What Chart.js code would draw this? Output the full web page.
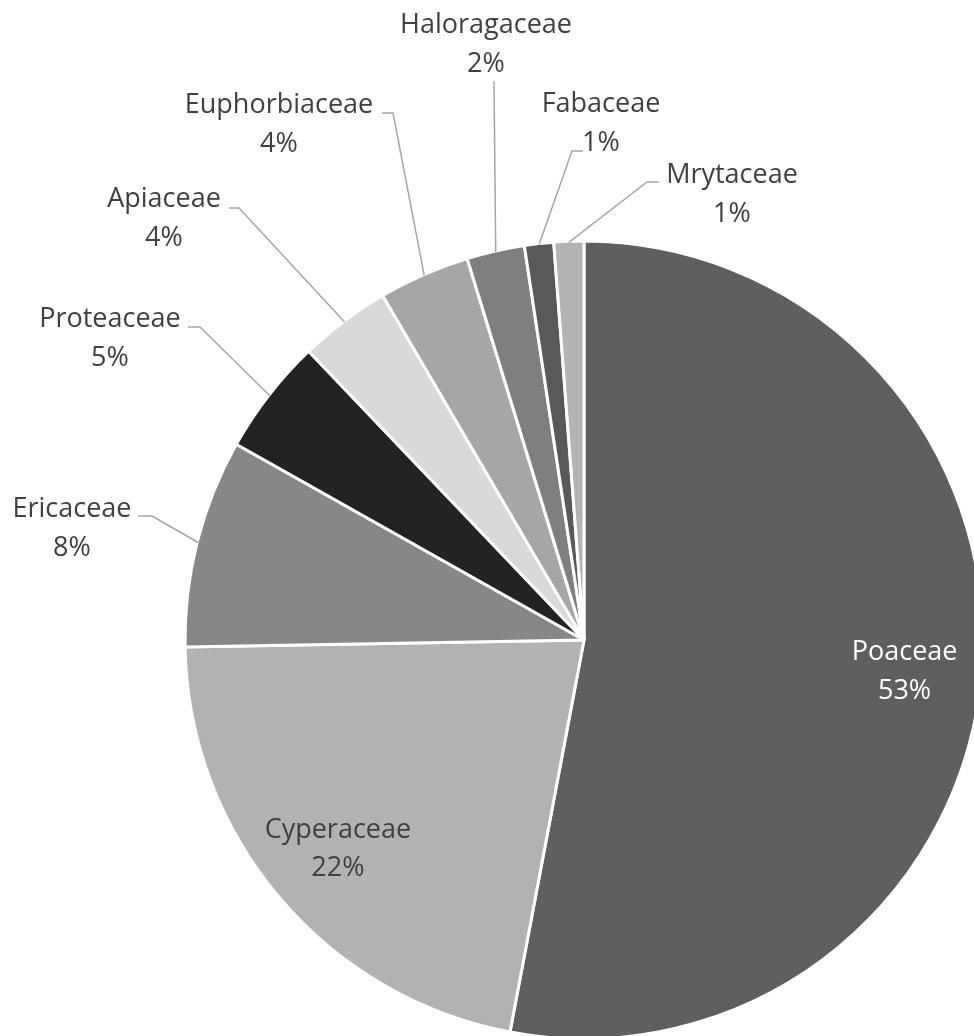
<!DOCTYPE html>
<html>
<head>
<meta charset="utf-8">
<script src="https://cdn.jsdelivr.net/npm/chart.js@4.4.0/dist/chart.umd.min.js"></script>
<style>
  html, body { margin: 0; padding: 0; background: #fff; overflow: hidden; }
  #wrap { width: 974px; height: 1036px; }
</style>
</head>
<body>
<div id="wrap"><canvas id="pollenPie"></canvas></div>
<script>
const families = ["Poaceae", "Cyperaceae", "Ericaceae", "Proteaceae", "Apiaceae",
                  "Euphorbiaceae", "Haloragaceae", "Fabaceae", "Mrytaceae"];
const shares = [52.97, 21.75, 8.44, 4.72, 3.70, 3.69, 2.34, 1.18, 1.21];
const sliceColors = ["#5f5f5f", "#b2b2b2", "#878787", "#232323", "#d9d9d9",
                     "#a6a6a6", "#7f7f7f", "#595959", "#b4b4b4"];

// where the outside labels go: text centre x, first baseline y,
// start of the leader line and length of its short horizontal stub
const callouts = {
  Ericaceae:     { x: 72,  y: 517, lx: 138, ly: 516, elbow: 14 },
  Proteaceae:    { x: 110, y: 327, lx: 188, ly: 327, elbow: 12 },
  Apiaceae:      { x: 164, y: 207, lx: 229, ly: 208, elbow: 10 },
  Euphorbiaceae: { x: 279, y: 113, lx: 382, ly: 113, elbow: 11 },
  Haloragaceae:  { x: 486, y: 33,  lx: 494, ly: 81,  elbow: 0 },
  Fabaceae:      { x: 601, y: 112, lx: 583, ly: 151, elbow: -11 },
  Mrytaceae:     { x: 732, y: 183, lx: 659, ly: 182, elbow: -12 }
};

const LINE_GAP = 38.5;
const TEXT_COLOR = "#404040";

const sliceLabels = {
  id: "sliceLabels",
  afterDatasetsDraw(chart) {
    const ctx = chart.ctx;
    const meta = chart.getDatasetMeta(0);
    const total = shares.reduce((a, b) => a + b, 0);
    ctx.save();
    ctx.font = '27px "Open Sans"';
    ctx.textAlign = "center";
    ctx.textBaseline = "alphabetic";
    meta.data.forEach((arc, i) => {
      const { x, y, startAngle, endAngle, outerRadius } =
        arc.getProps(["x", "y", "startAngle", "endAngle", "outerRadius"], true);
      const mid = (startAngle + endAngle) / 2;
      const pct = Math.round(shares[i] / total * 100) + "%";
      const spot = callouts[families[i]];

      if (!spot) {
        // big slices carry their label inside
        const r = outerRadius * 0.807;
        const cx = x + Math.cos(mid) * r;
        const cy = y + Math.sin(mid) * r;
        ctx.fillStyle = i === 0 ? "#ffffff" : TEXT_COLOR;
        ctx.fillText(families[i], cx, cy - 10);
        ctx.fillText(pct, cx, cy - 10 + LINE_GAP);
        return;
      }

      const ex = x + Math.cos(mid) * (outerRadius - 1);
      const ey = y + Math.sin(mid) * (outerRadius - 1);
      ctx.strokeStyle = "#a6a6a6";
      ctx.lineWidth = 1.5;
      ctx.beginPath();
      ctx.moveTo(spot.lx, spot.ly);
      ctx.lineTo(spot.lx + spot.elbow, spot.ly);
      ctx.lineTo(ex, ey);
      ctx.stroke();

      ctx.fillStyle = TEXT_COLOR;
      ctx.fillText(families[i], spot.x, spot.y);
      ctx.fillText(pct, spot.x, spot.y + LINE_GAP);
    });
    ctx.restore();
  }
};

new Chart(document.getElementById("pollenPie"), {
  type: "pie",
  data: {
    labels: families,
    datasets: [{
      data: shares,
      backgroundColor: sliceColors,
      borderColor: "#ffffff",
      borderWidth: 3,
      hoverOffset: 0
    }]
  },
  options: {
    responsive: true,
    maintainAspectRatio: false,
    animation: false,
    radius: 399,
    layout: { padding: { left: 194, top: 244, right: 0, bottom: 0 } },
    plugins: {
      legend: { display: false },
      tooltip: { enabled: false }
    }
  },
  plugins: [sliceLabels]
});
</script>
</body>
</html>
